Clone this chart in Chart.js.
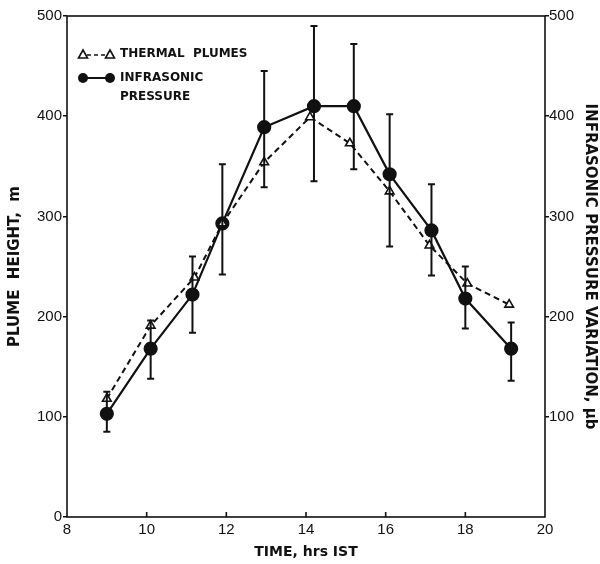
<!DOCTYPE html>
<html>
<head>
<meta charset="utf-8">
<script src="https://cdn.jsdelivr.net/npm/chart.js@4.4.0/dist/chart.umd.min.js"></script>
<style>
  html, body { margin: 0; padding: 0; background: #fff; }
  #wrap { width: 600px; height: 564px; }
</style>
</head>
<body>
<div id="wrap"><canvas id="plumeChart"></canvas></div>
<script>
// values
const timeThermal = [9.0, 10.1, 11.2, 11.9, 12.95, 14.1, 15.1, 16.1, 17.1, 18.05, 19.1];
const plumeHeight = [118, 191, 239, 293, 354, 399, 373, 325, 271, 233, 212];

const timeInfra = [9.0, 10.1, 11.15, 11.9, 12.95, 14.2, 15.2, 16.1, 17.15, 18.0, 19.15];
const infraPressure = [103, 168, 222, 293, 389, 410, 410, 342, 286, 218, 168];
const errLow = [85, 138, 184, 242, 329, 335, 347, 270, 241, 188, 136];
const errHigh = [125, 196, 260, 352, 445, 490, 472, 402, 332, 250, 194];

const xTicks = [8, 10, 12, 14, 16, 18, 20];
const leftTicks = [0, 100, 200, 300, 400, 500];
const rightTicks = [100, 200, 300, 400, 500];

const INK = '#111';
const TICK_FONT = { family: "'Liberation Sans', Arial, sans-serif", size: 15 };
const TITLE_FONT = { family: "'DejaVu Sans', sans-serif", size: 15, weight: 'bold' };

// frame, inner x ticks, error bars and the hand-drawn style legend
const decorPlugin = {
    id: 'decor',
    afterDatasetsDraw(chart) {
        const ctx = chart.ctx;
        const a = chart.chartArea;
        const x = chart.scales.x;
        const y2 = chart.scales.y2;
        ctx.save();
        ctx.strokeStyle = INK;
        ctx.lineWidth = 1.6;
        ctx.strokeRect(a.left, a.top, a.right - a.left, a.bottom - a.top);

        // x tick marks pointing into the plot
        xTicks.slice(1, -1).forEach(v => {
            const px = x.getPixelForValue(v);
            ctx.beginPath();
            ctx.moveTo(px, a.bottom);
            ctx.lineTo(px, a.bottom - 5);
            ctx.stroke();
        });

        // error bars on infrasonic pressure
        ctx.lineWidth = 2;
        timeInfra.forEach((t, i) => {
            const px = x.getPixelForValue(t);
            const lo = y2.getPixelForValue(errLow[i]);
            const hi = y2.getPixelForValue(errHigh[i]);
            ctx.beginPath();
            ctx.moveTo(px, lo); ctx.lineTo(px, hi);
            ctx.moveTo(px - 3.5, lo); ctx.lineTo(px + 3.5, lo);
            ctx.moveTo(px - 3.5, hi); ctx.lineTo(px + 3.5, hi);
            ctx.stroke();
        });

        // legend
        const lx = a.left + 16, lx2 = a.left + 43;
        const ly1 = 54, ly2 = 78;
        ctx.lineWidth = 1.6;
        ctx.setLineDash([4, 3]);
        ctx.beginPath(); ctx.moveTo(lx + 4, ly1 + 1); ctx.lineTo(lx2 - 4, ly1 + 1); ctx.stroke();
        ctx.setLineDash([]);
        [lx, lx2].forEach(cx => {
            ctx.beginPath();
            ctx.moveTo(cx, ly1 - 4); ctx.lineTo(cx + 4.5, ly1 + 4); ctx.lineTo(cx - 4.5, ly1 + 4);
            ctx.closePath(); ctx.stroke();
        });
        ctx.lineWidth = 2;
        ctx.beginPath(); ctx.moveTo(lx, ly2); ctx.lineTo(lx2, ly2); ctx.stroke();
        ctx.fillStyle = INK;
        [lx, lx2].forEach(cx => {
            ctx.beginPath(); ctx.arc(cx, ly2, 5, 0, Math.PI * 2); ctx.fill();
        });
        ctx.font = "bold 12px 'DejaVu Sans', sans-serif";
        ctx.textBaseline = 'middle';
        ctx.fillText('THERMAL  PLUMES', a.left + 53, ly1);
        ctx.fillText('INFRASONIC', a.left + 53, ly2);
        ctx.fillText('PRESSURE', a.left + 53, ly2 + 19);
        ctx.restore();
    }
};

function fixedTicks(list) {
    return function(axis) { axis.ticks = list.map(v => ({ value: v })); };
}

function initializePlumeChart() {
    const ctx = document.getElementById('plumeChart');
    if (!ctx) return;

    new Chart(ctx, {
        type: 'scatter',
        data: {
            datasets: [{
                label: 'THERMAL PLUMES',
                data: timeThermal.map((t, i) => ({ x: t, y: plumeHeight[i] })),
                yAxisID: 'y',
                showLine: true,
                borderColor: INK,
                borderWidth: 2,
                borderDash: [6, 4],
                pointStyle: 'triangle',
                pointRadius: 5,
                pointBackgroundColor: '#fff',
                pointBorderColor: INK,
                pointBorderWidth: 1.6
            }, {
                label: 'INFRASONIC PRESSURE',
                data: timeInfra.map((t, i) => ({ x: t, y: infraPressure[i] })),
                yAxisID: 'y2',
                showLine: true,
                borderColor: INK,
                borderWidth: 2.2,
                pointStyle: 'circle',
                pointRadius: 6,
                pointBackgroundColor: INK,
                pointBorderColor: INK
            }]
        },
        options: {
            responsive: true,
            maintainAspectRatio: false,
            animation: false,
            layout: { padding: { top: 16, left: 0, right: 0, bottom: 0 } },
            plugins: { legend: { display: false }, tooltip: { enabled: false } },
            scales: {
                x: {
                    type: 'linear',
                    min: 8, max: 20,
                    afterBuildTicks: fixedTicks(xTicks),
                    afterFit(s) { s.height = 47; },
                    grid: { display: true, drawOnChartArea: false, drawTicks: false },
                    border: { display: false },
                    ticks: { color: INK, font: TICK_FONT, padding: 4, maxRotation: 0 },
                    title: { display: true, text: 'TIME, hrs IST', color: INK, font: { ...TITLE_FONT, size: 14 }, padding: { top: 0, bottom: 3 } }
                },
                y: {
                    type: 'linear',
                    position: 'left',
                    min: 0, max: 500,
                    afterBuildTicks: fixedTicks(leftTicks),
                    afterFit(s) { s.width = 67; },
                    grid: { drawOnChartArea: false, drawTicks: true, tickLength: 4, color: INK, lineWidth: 1.5 },
                    border: { display: false },
                    ticks: { color: INK, font: TICK_FONT, padding: 1 },
                    title: { display: true, text: 'PLUME  HEIGHT,  m', color: INK, font: TITLE_FONT, padding: { top: 6, bottom: 0 } }
                },
                y2: {
                    type: 'linear',
                    position: 'right',
                    min: 0, max: 500,
                    afterBuildTicks: fixedTicks(rightTicks),
                    afterFit(s) { s.width = 55; },
                    grid: { drawOnChartArea: false, drawTicks: true, tickLength: 4, color: INK, lineWidth: 1.5 },
                    border: { display: false },
                    ticks: { color: INK, font: TICK_FONT, padding: 0 },
                    title: { display: true, text: 'INFRASONIC PRESSURE VARIATION, μb', color: INK, font: TITLE_FONT, padding: { top: 1, bottom: 0 } }
                }
            }
        },
        plugins: [decorPlugin]
    });
}

window.onload = function() {
    initializePlumeChart();
};
</script>
</body>
</html>
